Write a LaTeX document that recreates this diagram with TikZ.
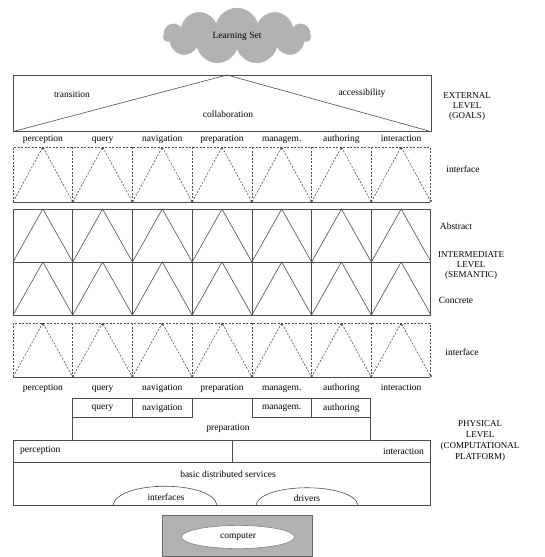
\documentclass[tikz,border=0pt]{standalone}
\usepackage{fontspec}
\setmainfont{Liberation Serif}
\usetikzlibrary{shapes.symbols,shapes.geometric}
\begin{document}
\begin{tikzpicture}[x=1pt,y=-1pt,
  font=\fontsize{9.5}{11}\selectfont,
  frame/.style={draw=black!70, line width=0.6pt},
  dframe/.style={draw=black!70, line width=0.6pt, dash pattern=on 2pt off 1.5pt},
  lbl/.style={inner sep=0pt},
  side/.style={inner sep=0pt, align=center, font=\fontsize{9}{10}\selectfont}]
\useasboundingbox (0,0) rectangle (545,557);

% cloud
\node[cloud, cloud puffs=11, aspect=2.6, fill=black!30, draw=black!30,
      minimum width=147pt, minimum height=56pt, inner sep=0pt] (cloud) at (237,36) {Learning Set};

% external level
\coordinate (eTL) at (13,75);
\coordinate (eBR) at (431,131);
\coordinate (eA) at (227,75);
\coordinate (eL) at (15,131);
\coordinate (eR) at (429,131);
\draw[frame] (eTL) rectangle (eBR);
\draw[frame] (eL) -- (eA) -- (eR);
\node[lbl] (trans) at (72,94) {transition};
\node[lbl] (acc) at (362,93) {accessibility};
\node[lbl] (coll) at (228,114) {collaboration};
\node[side] (ext) at (467,106) {EXTERNAL\\LEVEL\\(GOALS)};

% column names
\def\cw{59.714}
\foreach \n [count=\i from 0] in {perception,query,navigation,preparation,managem.,authoring,interaction}{
  \node[lbl, anchor=base] (ta\i) at ({13+(\i+0.5)*\cw},141) {\n};
  \node[lbl, anchor=base] (tb\i) at ({13+(\i+0.5)*\cw},390) {\n};
}

% interface row 1 (dashed)
\draw[dframe] (13,202) -- (13,147) -- (430,147) -- (430,202);
\draw[frame] (13,202) -- (430,202);
\foreach \i in {1,...,6}{ \draw[dframe] ({13+\i*\cw},147) -- ({13+\i*\cw},202); }
\foreach \i in {0,...,6}{
  \draw[dframe] ({13+\i*\cw},202) -- ({13+(\i+0.5)*\cw},147) -- ({13+(\i+1)*\cw},202);
  \fill[black!70] ({13+(\i+0.5)*\cw},148.5) circle (1.2pt);
  \fill[black!70] ({13+(\i+1)*\cw},201) circle (1.2pt);
}
\node[lbl] (if1) at (463,169) {interface};

% intermediate level
\draw[frame] (13,209) rectangle (430,315);
\draw[frame] (13,262) -- (430,262);
\foreach \i in {1,...,6}{ \draw[frame] ({13+\i*\cw},209) -- ({13+\i*\cw},315); }
\foreach \i in {0,...,6}{
  \draw[frame] ({13+\i*\cw},262) -- ({13+(\i+0.5)*\cw},209) -- ({13+(\i+1)*\cw},262);
  \draw[frame] ({13+\i*\cw},315) -- ({13+(\i+0.5)*\cw},262) -- ({13+(\i+1)*\cw},315);
}
\node[lbl] (abs) at (456,226) {Abstract};
\node[side] (inter) at (471,265) {INTERMEDIATE\\LEVEL\\(SEMANTIC)};
\node[lbl] (conc) at (456,300) {Concrete};

% interface row 2 (dashed)
\draw[dframe] (13,377) -- (13,323) -- (430,323) -- (430,377);
\draw[frame] (13,377) -- (430,377);
\foreach \i in {1,...,6}{ \draw[dframe] ({13+\i*\cw},323) -- ({13+\i*\cw},377); }
\foreach \i in {0,...,6}{
  \draw[dframe] ({13+\i*\cw},377) -- ({13+(\i+0.5)*\cw},323) -- ({13+(\i+1)*\cw},377);
  \fill[black!70] ({13+(\i+0.5)*\cw},324.5) circle (1.2pt);
  \fill[black!70] ({13+(\i+1)*\cw},376) circle (1.2pt);
}
\node[lbl] (if2) at (462,352) {interface};

% physical level
\draw[frame] (72.7,440) -- (72.7,398) -- (370.3,398) -- (370.3,440);
\draw[frame] (72.7,417) -- (192.1,417) -- (192.1,398);
\draw[frame] (132.4,398) -- (132.4,417);
\draw[frame] (251.9,398) -- (251.9,417) -- (370.3,417);
\draw[frame] (311.6,398) -- (311.6,417);
\node[lbl] (pq) at (102.5,408) {query};
\node[lbl] (pn) at (162.2,408) {navigation};
\node[lbl] (pm) at (281.7,408) {managem.};
\node[lbl] (pa) at (341.4,408) {authoring};
\node[lbl] (pp) at (228,428) {preparation};

\draw[frame] (13,440) rectangle (430,505);
\draw[frame] (13,462) -- (430,462);
\draw[frame] (232,440) -- (232,462);
\node[lbl, anchor=west] (pper) at (20,450) {perception};
\node[lbl, anchor=east] (pint) at (424,451) {interaction};
\node[lbl] (bds) at (228,474) {basic distributed services};
\draw[frame] (113,505) .. controls (118,480) and (212,480) .. (217,505);
\node[lbl] (mw) at (166,497) {interfaces};
\draw[frame] (256,505) .. controls (261,482) and (353,482) .. (358,505);
\node[lbl] (drv) at (307,498) {drivers};
\node[side, font=\fontsize{9}{11}\selectfont] (phys) at (480,441) {PHYSICAL\\LEVEL\\(COMPUTATIONAL\\PLATFORM)};

% computer
\node[draw=black!60, fill=black!30, line width=0.8pt, minimum width=150pt, minimum height=41pt, inner sep=0pt] (comp) at (237,536) {};
\node[ellipse, draw=black!60, fill=white, minimum width=113pt, minimum height=23pt, inner sep=0pt] (compe) at (238,537) {computer};
\end{tikzpicture}
\end{document}
